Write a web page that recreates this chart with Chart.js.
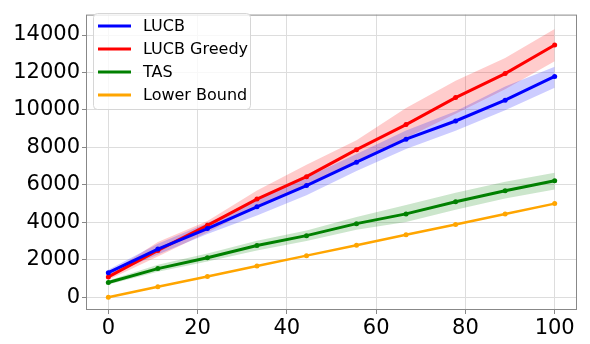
<!DOCTYPE html>
<html lang="en">
<head>
<meta charset="UTF-8">
<title>LUCB chart</title>
<script src="https://cdn.jsdelivr.net/npm/chart.js@4.4.0/dist/chart.umd.min.js"></script>
<style>
  body { margin: 0; background: #fff; }
  #wrap { width: 590px; height: 344px; }
</style>
</head>
<body>
<div id="wrap"><canvas id="myChart" width="590" height="344"></canvas></div>
<script>
// x positions (10 evenly spaced points)
var xs = [0, 11.1, 22.2, 33.3, 44.4, 55.6, 66.7, 77.8, 88.9, 100];

var lucb     = [1310, 2570, 3670, 4830, 5960, 7210, 8440, 9410, 10520, 11790];
var lucbLo   = [1150, 2280, 3380, 4370, 5450, 6740, 7920, 8890, 9990, 11180];
var lucbHi   = [1470, 2860, 3960, 5200, 6400, 7650, 8900, 9930, 11250, 12300];

var greedy   = [1085, 2500, 3840, 5240, 6440, 7880, 9220, 10660, 11940, 13470];
var greedyLo = [930, 2170, 3460, 4800, 5900, 7300, 8500, 9800, 11100, 12600];
var greedyHi = [1240, 2950, 4070, 5700, 7080, 8380, 10100, 11560, 12770, 14320];

var tas      = [790, 1530, 2110, 2760, 3290, 3930, 4450, 5100, 5690, 6220];
var tasLo    = [680, 1360, 1910, 2500, 3010, 3600, 4020, 4670, 5270, 5750];
var tasHi    = [900, 1740, 2340, 3020, 3570, 4290, 4930, 5580, 6170, 6650];

var lowerBound = [0, 556, 1111, 1667, 2222, 2778, 3333, 3889, 4444, 5000];

var xTicks = [0, 20, 40, 60, 80, 100];
var yTicks = [0, 2000, 4000, 6000, 8000, 10000, 12000, 14000];

var legendNames = ['LUCB', 'LUCB Greedy', 'TAS', 'Lower Bound'];
var legendColors = ['#0000ff', '#ff0000', '#008000', '#ffa500'];

function pts(ys) {
    return xs.map(function (x, i) { return {x: x, y: ys[i]}; });
}

function line(label, ys, color, w) {
    return {
        label: label, data: pts(ys), borderColor: color, backgroundColor: color,
        borderWidth: w, pointRadius: 2.5, pointBorderWidth: 0, fill: false, tension: 0
    };
}

function band(ys, color, fill) {
    return {
        label: '', data: pts(ys), borderWidth: 0, borderColor: 'rgba(0,0,0,0)',
        backgroundColor: color, pointRadius: 0, fill: fill, tension: 0
    };
}

// legend box drawn inside the plot, upper left
var innerLegend = {
    id: 'innerLegend',
    afterDraw: function (chart) {
        var ctx = chart.ctx;
        var a = chart.chartArea;
        ctx.save();
        // frame round the plot
        ctx.strokeStyle = '#888';
        ctx.lineWidth = 1;
        ctx.strokeRect(a.left + 0.5, a.top + 0.5, a.right - a.left - 1, a.bottom - a.top - 1);

        var bx = 93, by = 13, bw = 157, bh = 96;
        ctx.beginPath();
        ctx.roundRect(bx + 0.5, by + 0.5, bw, bh, 4);
        ctx.fillStyle = 'rgba(255,255,255,0.8)';
        ctx.fill();
        ctx.strokeStyle = '#d6d6d6';
        ctx.stroke();

        ctx.font = '16px "DejaVu Sans"';
        ctx.textBaseline = 'middle';
        for (var i = 0; i < legendNames.length; i++) {
            var yy = 26 + i * 23;
            ctx.strokeStyle = legendColors[i];
            ctx.lineWidth = 3;
            ctx.beginPath();
            ctx.moveTo(98, yy);
            ctx.lineTo(131, yy);
            ctx.stroke();
            ctx.fillStyle = '#000';
            ctx.fillText(legendNames[i], 143, yy + 1);
        }
        ctx.restore();
    }
};

var ctx = document.getElementById('myChart').getContext('2d');
var chart = new Chart(ctx, {
    type: 'line',
    data: {
        datasets: [
            line('LUCB', lucb, '#0000ff', 3),
            line('LUCB Greedy', greedy, '#ff0000', 3),
            line('TAS', tas, '#008000', 3),
            line('Lower Bound', lowerBound, '#ffa500', 2.5),
            band(lucbHi, 'rgba(0,0,255,0.2)', '+1'),
            band(lucbLo, 'rgba(0,0,255,0.2)', false),
            band(greedyHi, 'rgba(255,0,0,0.2)', '+1'),
            band(greedyLo, 'rgba(255,0,0,0.2)', false),
            band(tasHi, 'rgba(0,128,0,0.2)', '+1'),
            band(tasLo, 'rgba(0,128,0,0.2)', false)
        ]
    },
    options: {
        responsive: false,
        animation: false,
        layout: { padding: { left: 0, right: 13, top: 5, bottom: 0 } },
        plugins: {
            legend: { display: false },
            tooltip: { enabled: false }
        },
        scales: {
            x: {
                type: 'linear', min: -5, max: 105,
                afterBuildTicks: function (s) { s.ticks = xTicks.map(function (v) { return {value: v}; }); },
                afterFit: function (s) { s.height = 34; },
                grid: { color: '#dddddd', tickColor: '#888', tickLength: 4 },
                border: { display: false },
                ticks: { color: '#000', padding: 2, maxRotation: 0,
                         callback: function (v) { return String(v); },
                         font: { family: 'DejaVu Sans', size: 21 } }
            },
            y: {
                type: 'linear', min: -680, max: 15090,
                afterBuildTicks: function (s) { s.ticks = yTicks.map(function (v) { return {value: v}; }); },
                afterFit: function (s) { s.width = 86; },
                grid: { color: '#dddddd', tickColor: '#888', tickLength: 4 },
                border: { display: false },
                ticks: { color: '#000', padding: 2,
                         callback: function (v) { return String(v); },
                         font: { family: 'DejaVu Sans', size: 21 } }
            }
        }
    },
    plugins: [innerLegend]
});
</script>
</body>
</html>
